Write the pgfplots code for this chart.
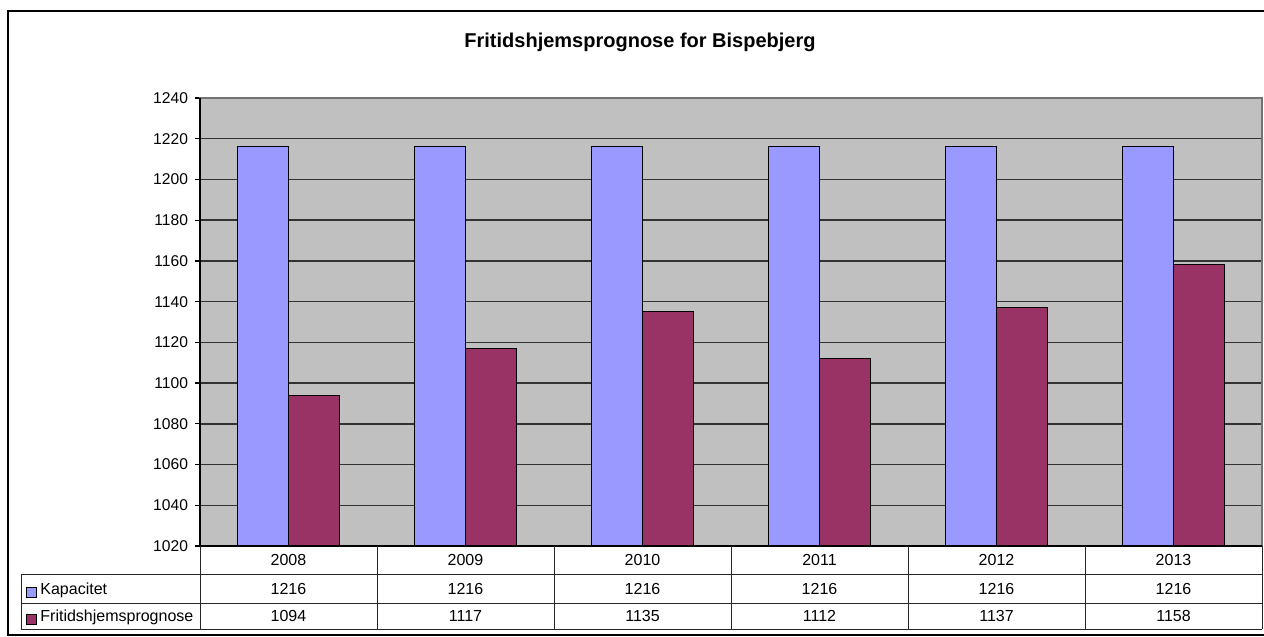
\documentclass[border=0pt]{standalone}
\usepackage{pgfplots}
\pgfplotsset{compat=1.18}
\usepackage{fontspec}
\setmainfont{Liberation Sans}
\definecolor{kap}{HTML}{9999FF}
\definecolor{fri}{HTML}{993366}
\definecolor{plotbg}{HTML}{C0C0C0}
\begin{document}
\begin{tikzpicture}[x=0.5pt,y=0.5pt]
\path[use as bounding box] (0,0) rectangle (1264,-637);
\draw[black, line width=0.7pt] (1264,-11) -- (8,-11) -- (8,-635) -- (1264,-635);
\node[font=\bfseries\fontsize{10}{12}\selectfont] at (640,-42) {Fritidshjemsprognose for Bispebjerg};
\begin{axis}[
    at={(100pt,-273pt)}, anchor=south west,
    scale only axis, width=531pt, height=224pt,
    ybar=0pt, bar width=25.5pt,
    xmin=-0.5, xmax=5.5, xtick=\empty,
    ymin=1020, ymax=1240, ytick={1020,1040,...,1240},
    ytick pos=left, tick align=outside, major tick length=2.5pt,
    ymajorgrids, major grid style={black!80, line width=0.7pt},
    axis background/.style={fill=plotbg},
    axis line style={draw=black!55, line width=0.7pt},
    tick style={black, line width=0.6pt},
    yticklabel style={font=\fontsize{7.8}{9}\selectfont},
    /pgf/number format/assume math mode=true,
    /pgf/number format/1000 sep=,
    clip=false,
]
\addplot[fill=kap, draw=black, line width=0.5pt] coordinates {(0,1216) (1,1216) (2,1216) (3,1216) (4,1216) (5,1216)};
\addplot[fill=fri, draw=black, line width=0.5pt] coordinates {(0,1094) (1,1117) (2,1135) (3,1112) (4,1137) (5,1158)};
\draw[black, line width=0.7pt] (rel axis cs:0,1) -- (rel axis cs:0,0) -- (rel axis cs:1,0);
\end{axis}
% data table below the plot
\draw[black!85, line width=0.5pt] (21,-574) -- (1262,-574) (21,-603) -- (1262,-603) (21,-629) -- (1262,-629) (21,-574) -- (21,-629);
\foreach \k in {0,...,6} {\draw[black!85, line width=0.5pt] ({200+177*\k},-546) -- ({200+177*\k},-629);}
\foreach \yr/\ka/\fr [count=\k from 0] in {2008/1216/1094, 2009/1216/1117, 2010/1216/1135, 2011/1216/1112, 2012/1216/1137, 2013/1216/1158} {
  \node[font=\fontsize{8}{9}\selectfont, anchor=base, inner sep=0pt] at ({288.5+177*\k},-565.7) {\yr};
  \node[font=\fontsize{8}{9}\selectfont, anchor=base, inner sep=0pt] at ({288.5+177*\k},-594.3) {\ka};
  \node[font=\fontsize{8}{9}\selectfont, anchor=base, inner sep=0pt] at ({288.5+177*\k},-621.7) {\fr};
}
\filldraw[fill=kap, draw=black, line width=0.4pt] (26,-587) rectangle (36,-597);
\filldraw[fill=fri, draw=black, line width=0.4pt] (26,-614) rectangle (36,-624);
\node[font=\fontsize{8}{9}\selectfont, anchor=base west, inner sep=0pt] at (40,-594.3) {Kapacitet};
\node[font=\fontsize{8}{9}\selectfont, anchor=base west, inner sep=0pt] at (40,-621.7) {Fritidshjemsprognose};
\end{tikzpicture}
\end{document}
